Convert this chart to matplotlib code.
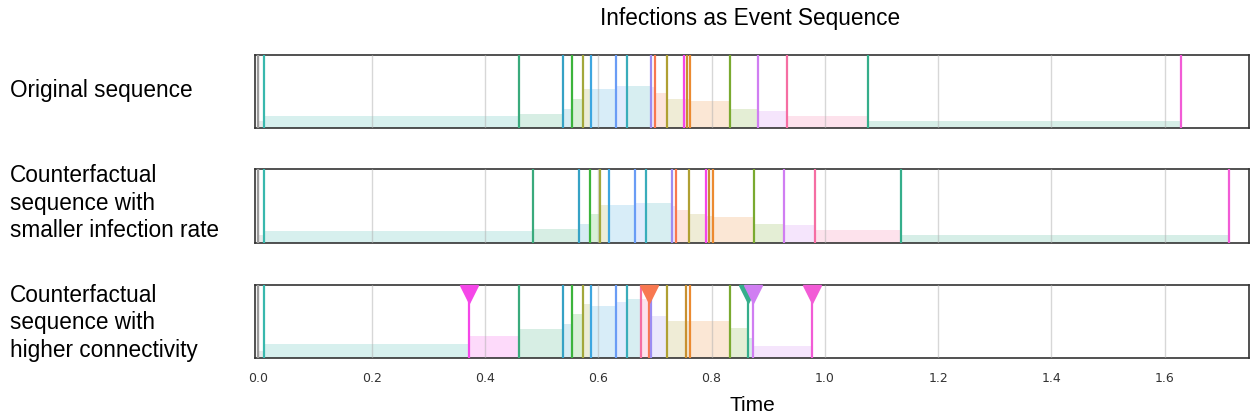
import matplotlib
matplotlib.use("Agg")
import matplotlib.pyplot as plt
from matplotlib.transforms import offset_copy

# colour of each infected node (event type)
node_colors = [
    '#9a9a9a', '#39b8ad', '#3aaa7c', '#36a2c5', '#3cb43c', '#a3a83c', '#3ea6e0',
    '#6a9cf5', '#3aadbb', '#9c8cf2', '#f87850', '#b0a033', '#f546e8', '#c89030',
    '#ec8a30', '#7aaa30', '#d07ef2', '#f56ea3', '#35ae8b', '#f25bd6',
]

row_labels = [
    "Original sequence",
    "Counterfactual\nsequence with\nsmaller infection rate",
    "Counterfactual\nsequence with\nhigher connectivity",
]

# original sequence
orig_times = [0.0, 0.0106, 0.46, 0.5375, 0.5545, 0.5734, 0.588, 0.631, 0.650, 0.693,
              0.700, 0.722, 0.751, 0.756, 0.762, 0.832, 0.882, 0.933, 1.077, 1.628]
orig_nodes = [0, 1, 2, 3, 4, 5, 6, 7, 8, 9, 10, 11, 12, 13, 14, 15, 16, 17, 18, 19]
orig_levels = [0.1, 0.168, 0.195, 0.27, 0.405, 0.54, 0.54, 0.572, 0.58, 0.57,
               0.477, 0.405, 0.405, 0.405, 0.374, 0.27, 0.243, 0.176, 0.10]

# counterfactual: smaller infection rate
cf1_times = [0.0, 0.0106, 0.484, 0.566, 0.585, 0.603, 0.619, 0.664, 0.684, 0.730,
             0.737, 0.760, 0.791, 0.795, 0.802, 0.875, 0.928, 0.982, 1.134, 1.713]
cf1_nodes = [0, 1, 2, 3, 4, 5, 6, 7, 8, 9, 10, 11, 12, 13, 14, 15, 16, 17, 18, 19]
cf1_levels = [0.1, 0.163, 0.19, 0.25, 0.385, 0.51, 0.51, 0.54, 0.54, 0.5,
              0.44, 0.385, 0.37, 0.36, 0.348, 0.26, 0.235, 0.167, 0.1]

# counterfactual: higher connectivity (changed events get a marker)
cf2_times = [0.0, 0.0106, 0.3715, 0.46, 0.5375, 0.5545, 0.5734, 0.588, 0.631, 0.650,
             0.675, 0.690, 0.693, 0.722, 0.755, 0.762, 0.832, 0.8635, 0.8735, 0.977]
cf2_nodes = [0, 1, 12, 2, 3, 4, 5, 6, 7, 8, 17, 10, 9, 11, 13, 14, 15, 18, 16, 19]
cf2_levels = [0.1, 0.2, 0.3, 0.4, 0.47, 0.6, 0.74, 0.71, 0.77, 0.81,
              0.8, 0.75, 0.577, 0.51, 0.51, 0.51, 0.41, 0.27, 0.168]
cf2_changed = [2, 11, 17, 18, 19]

x_ticks = [0.0, 0.2, 0.4, 0.6, 0.8, 1.0, 1.2, 1.4, 1.6]

LABEL_FONT = 'Liberation Sans'


def draw_sequence(ax, times, nodes, levels, changed=()):
    # shaded intensity between consecutive events
    for i, level in enumerate(levels):
        ax.fill_between([times[i], times[i + 1]], 0, level,
                        color=node_colors[nodes[i]], alpha=0.2, lw=0, zorder=1)
    for t, n in zip(times, nodes):
        ax.axvline(t, color=node_colors[n], lw=1.6, zorder=3)

    ms = 13
    marker_trans = offset_copy(ax.get_xaxis_transform(), fig=ax.figure,
                               y=-ms / 2, units='points')
    for i in changed:
        ax.plot([times[i]], [1], marker='v', ms=ms, color=node_colors[nodes[i]],
                mec=node_colors[nodes[i]], transform=marker_trans,
                clip_on=False, zorder=4)

    ax.set_xlim(-0.0053, 1.749)
    ax.set_ylim(0, 1)
    ax.set_yticks([])
    ax.set_xticks(x_ticks)
    ax.grid(axis='x', color='#b0b0b0', alpha=0.5, lw=1.0)
    ax.set_axisbelow(False)
    ax.tick_params(axis='x', length=0, pad=10, labelsize=9, labelcolor='#333333')
    for spine in ax.spines.values():
        spine.set_color('#333333')
        spine.set_linewidth(1.2)


fig = plt.figure(figsize=(12.5, 4.17), dpi=100)

panels = [
    (orig_times, orig_nodes, orig_levels, ()),
    (cf1_times, cf1_nodes, cf1_levels, ()),
    (cf2_times, cf2_nodes, cf2_levels, cf2_changed),
]
bottoms = [0.692, 0.418, 0.141]
label_y = [90, 203, 323]

axes = []
for k, (times, nodes, levels, changed) in enumerate(panels):
    ax = fig.add_axes([0.2043, bottoms[k], 0.795, 0.176])
    draw_sequence(ax, times, nodes, levels, changed)
    if k < 2:
        ax.tick_params(axis='x', labelbottom=False)
    axes.append(ax)
    fig.text(10 / 1250, 1 - label_y[k] / 417, row_labels[k], ha='left', va='center',
             fontsize=16.3, family=LABEL_FONT, linespacing=1.25)

fig.text(0.6, 1 - 19 / 417, "Infections as Event Sequence", ha='center', va='center',
         fontsize=16.3, family=LABEL_FONT)
axes[-1].set_xlabel("Time", fontsize=15, family=LABEL_FONT, labelpad=8)

fig.savefig("out.png", dpi=100)
